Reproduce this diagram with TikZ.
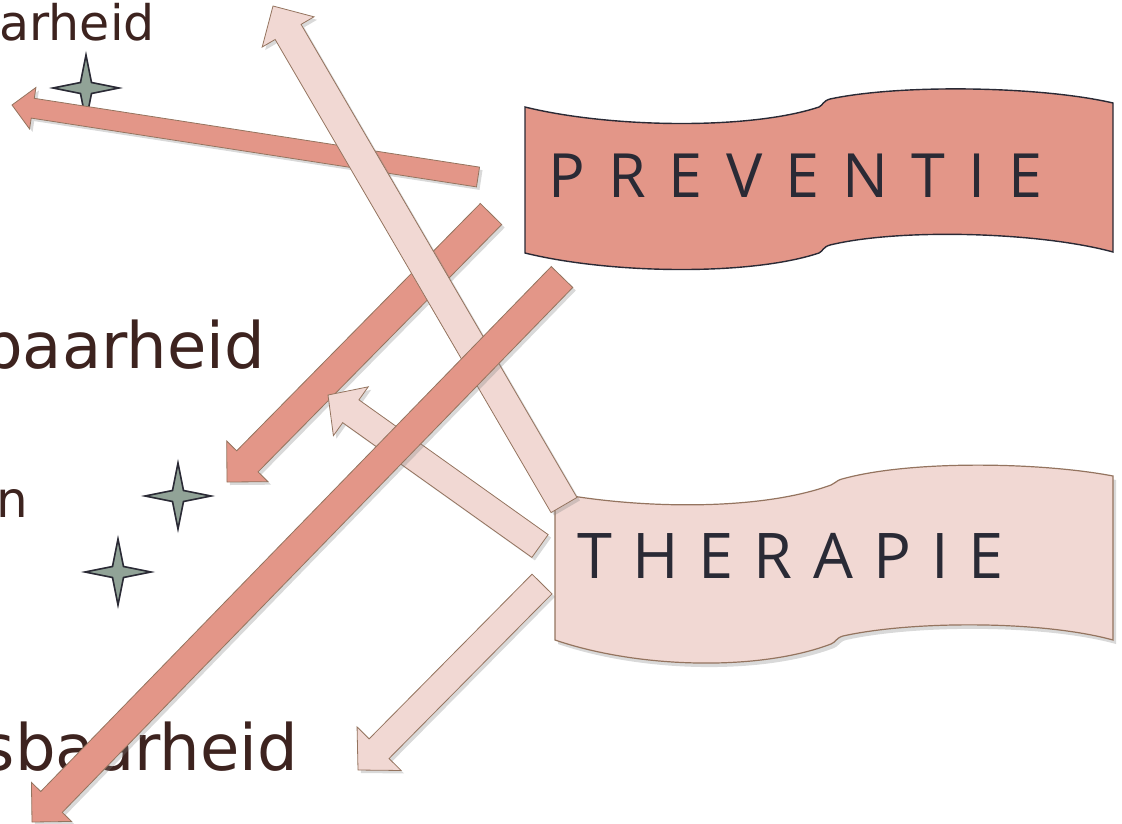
\documentclass[tikz,border=0pt]{standalone}
\usepackage{fontspec}
\usepackage{xcolor}
\usepackage{tikz}
\usetikzlibrary{calc, shadows}
\newfontfamily\labelfont{DejaVu Sans}
\newfontfamily\bannerfont[LetterSpace=38]{Open Sans}
\newfontfamily\bannerfontb[LetterSpace=32]{Open Sans}
\definecolor{zalm}{HTML}{E39688}
\definecolor{roos}{HTML}{F1D8D3}
\definecolor{randbruin}{HTML}{94745F}
\definecolor{stergrijs}{HTML}{91A397}
\definecolor{donker}{HTML}{2A2A35}
\definecolor{tekstbruin}{HTML}{3D231F}

\begin{document}
\begin{tikzpicture}[x=1pt, y=-1pt,
    zalmpijl/.style={fill=zalm, draw=randbruin, line width=0.8pt, line join=miter,
        drop shadow={shadow xshift=3pt, shadow yshift=-3pt, opacity=0.3}},
    roospijl/.style={fill=roos, draw=randbruin, line width=0.8pt, line join=miter,
        drop shadow={shadow xshift=3pt, shadow yshift=-3pt, opacity=0.3}},
    ster/.style={fill=stergrijs, draw=donker, line width=1.6pt},
    zijtekst/.style={text=tekstbruin, inner sep=0pt, anchor=base east}]
    \useasboundingbox (0,0) rectangle (1122,823);
    \clip (0,0) rectangle (1122,823);

    % pijl : style, staart, punt, halve breedte, halve kop, lengte kop
    \def\pijl#1#2#3#4#5#6{%
        \coordinate (#2-b) at ($(#3)!#6pt!(#2)$);
        \path[#1] ($(#2)!#4pt!90:(#3)$) -- ($(#2-b)!#4pt!-90:(#2)$)
            -- ($(#2-b)!#5pt!-90:(#2)$) -- (#3) -- ($(#2-b)!#5pt!90:(#2)$)
            -- ($(#2-b)!#4pt!90:(#2)$) -- ($(#2)!#4pt!-90:(#3)$) -- cycle;
    }

    % teksten links
    \node[zijtekst, font=\labelfont\fontsize{49}{58}\selectfont] (lab1) at (155,40) {arheid};
    \node[zijtekst, font=\labelfont\fontsize{64}{76}\selectfont] (lab2) at (265,368) {baarheid};
    \node[zijtekst, font=\labelfont\fontsize{50}{60}\selectfont] (lab3) at (28,517) {n};
    \node[zijtekst, font=\labelfont\fontsize{64}{76}\selectfont] (lab4) at (298,770) {sbaarheid};

    % sterren
    \foreach \sx/\sy in {86/88, 178/496, 118/572}{
        \draw[ster, shift={(\sx,\sy)}] (33,0) -- (5.5,5.5) -- (0,33) -- (-5.5,5.5)
            -- (-33,0) -- (-5.5,-5.5) -- (0,-33) -- (5.5,-5.5) -- cycle;
    }

    % banieren
    \draw[fill=zalm, draw=donker, line width=1.4pt]
        (525,107) .. controls (610,128) and (750,130) .. (819,107)
        .. controls (823,105) and (823,101) .. (830,99)
        .. controls (900,84) and (1040,86) .. (1113,103) -- (1113,252)
        .. controls (1040,232) and (900,228) .. (830,245)
        .. controls (823,247) and (823,251) .. (819,253)
        .. controls (750,276) and (610,274) .. (525,253) -- cycle;
    \draw[fill=roos, draw=randbruin, line width=1.2pt,
          drop shadow={shadow xshift=3pt, shadow yshift=-4pt, opacity=0.3}]
        (555,493) .. controls (640,509) and (760,511) .. (831,485)
        .. controls (835,484) and (835,481) .. (842,479)
        .. controls (910,460) and (1040,462) .. (1113,476) -- (1113,640)
        .. controls (1040,620) and (910,621) .. (843,636)
        .. controls (836,638) and (836,642) .. (831,644)
        .. controls (760,671) and (640,669) .. (555,640) -- cycle;
    \node[anchor=base west, inner sep=0pt, text=donker,
          font=\bannerfont\fontsize{61}{70}\selectfont] (prev) at (548,197) {PREVENTIE};
    \node[anchor=base west, inner sep=0pt, text=donker,
          font=\bannerfontb\fontsize{63}{72}\selectfont] (ther) at (577,578) {THERAPIE};

    % eindpunten van de pijlen
    \coordinate (a1) at (478,177);  \coordinate (a1p) at (12,105);
    \coordinate (a2) at (491,214);  \coordinate (a2p) at (227,482);
    \coordinate (a3) at (562,277);  \coordinate (a3p) at (32,822);
    \coordinate (b1) at (564,505);  \coordinate (b1p) at (273,6);
    \coordinate (b2) at (540,546);  \coordinate (b2p) at (328,395);
    \coordinate (b3) at (542,584);  \coordinate (b3p) at (358,770);

    \pijl{zalmpijl}{a1}{a1p}{10}{21}{21}
    \pijl{zalmpijl}{a2}{a2p}{15}{29}{29}
    \pijl{roospijl}{b1}{b1p}{15}{30}{30}
    \pijl{roospijl}{b2}{b2p}{14}{30}{28}
    \pijl{zalmpijl}{a3}{a3p}{15}{28}{28}
    \pijl{roospijl}{b3}{b3p}{14}{31}{30}
\end{tikzpicture}
\end{document}
